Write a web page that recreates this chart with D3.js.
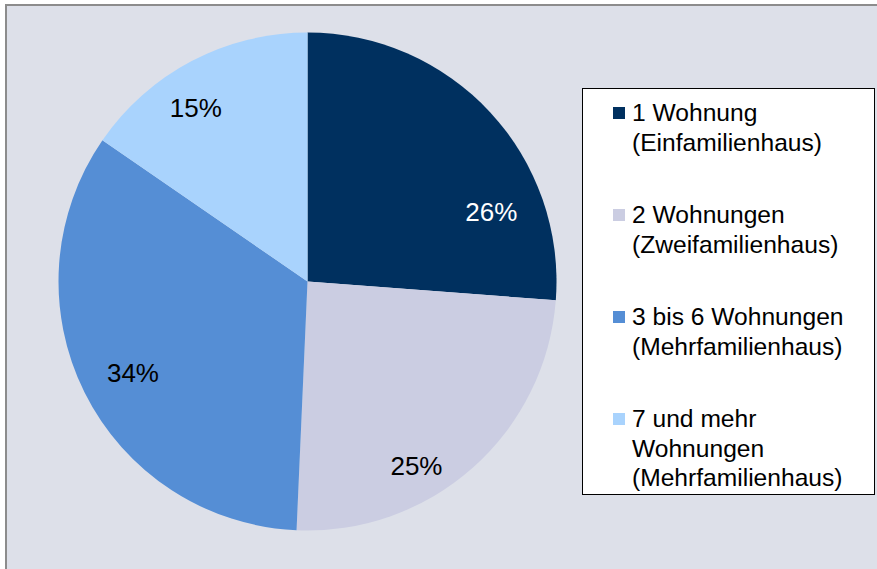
<!DOCTYPE html>
<html>
<head>
<meta charset="utf-8">
<script src="https://cdn.jsdelivr.net/npm/d3@7"></script>
<style>
  body { margin: 0; background: #fff; }
  svg { display: block; font-family: "Liberation Sans", Arial, sans-serif; }
</style>
</head>
<body>
<div id="chart"></div>
<script>
// shares (labels are rounded)
const categories = [
  ["1 Wohnung", "(Einfamilienhaus)"],
  ["2 Wohnungen", "(Zweifamilienhaus)"],
  ["3 bis 6 Wohnungen", "(Mehrfamilienhaus)"],
  ["7 und mehr", "Wohnungen", "(Mehrfamilienhaus)"]
]
const values = [26.2, 24.5, 33.9, 15.4]
const colors = ["#00305f", "#cbcde2", "#558ed5", "#a9d3fd"]
const labelColors = ["#fff", "#000", "#000", "#000"]

// label placement tweaks (degrees off the slice middle, radius share)
const labelTurn = [22, 11, -1, -5]
const labelRadius = [0.79, 0.86, 0.79, 0.83]

let width = 877
  , height = 569
  , cx = 307.5
  , cy = 281.5
  , r = 249

const svg = d3.select("#chart").append("svg")
  .attr("width", width)
  .attr("height", height)

// plot area frame (runs off the right and bottom edges)
svg.append("rect")
  .attr("x", 6)
  .attr("y", 5)
  .attr("width", width + 20)
  .attr("height", height + 20)
  .attr("fill", "#dde0e9")
  .attr("stroke", "#8c8c8c")
  .attr("stroke-width", 2)

const pie = d3.pie().sort(null).value(d => d)
const arcs = pie(values)

const arc = d3.arc().innerRadius(0).outerRadius(r)

const g = svg.append("g")
  .attr("transform", `translate(${cx},${cy})`)

g.selectAll("path")
  .data(arcs)
  .join("path")
  .attr("d", arc)
  .attr("fill", (d, i) => colors[i])

g.selectAll("text")
  .data(arcs)
  .join("text")
  .attr("transform", (d, i) => {
    const a = (d.startAngle + d.endAngle) / 2 + labelTurn[i] * Math.PI / 180
    const rr = r * labelRadius[i]
    return `translate(${rr * Math.sin(a)},${-rr * Math.cos(a)})`
  })
  .attr("text-anchor", "middle")
  .attr("dy", "0.36em")
  .attr("fill", (d, i) => labelColors[i])
  .style("font-size", "26px")
  .text(d => d3.format(".0f")(d.data) + "%")

// legend
const legendBox = { x: 582.5, y: 88.5, w: 292, h: 406 }
const lineH = 29.5
const itemGap = 43

svg.append("rect")
  .attr("x", legendBox.x)
  .attr("y", legendBox.y)
  .attr("width", legendBox.w)
  .attr("height", legendBox.h)
  .attr("fill", "#fff")
  .attr("stroke", "#000")
  .attr("stroke-width", 1)

let baseline = 121
categories.forEach((lines, i) => {
  const item = svg.append("g")
  item.append("rect")
    .attr("x", 613)
    .attr("y", baseline - 14)
    .attr("width", 12)
    .attr("height", 12)
    .attr("fill", colors[i])
  const t = item.append("text")
    .attr("x", 632)
    .attr("y", baseline)
    .attr("fill", "#000")
    .style("font-size", "24.6px")
  lines.forEach((line, j) => {
    t.append("tspan")
      .attr("x", 632)
      .attr("y", baseline + j * lineH)
      .text(line)
  })
  baseline += lines.length * lineH + itemGap
})
</script>
</body>
</html>
